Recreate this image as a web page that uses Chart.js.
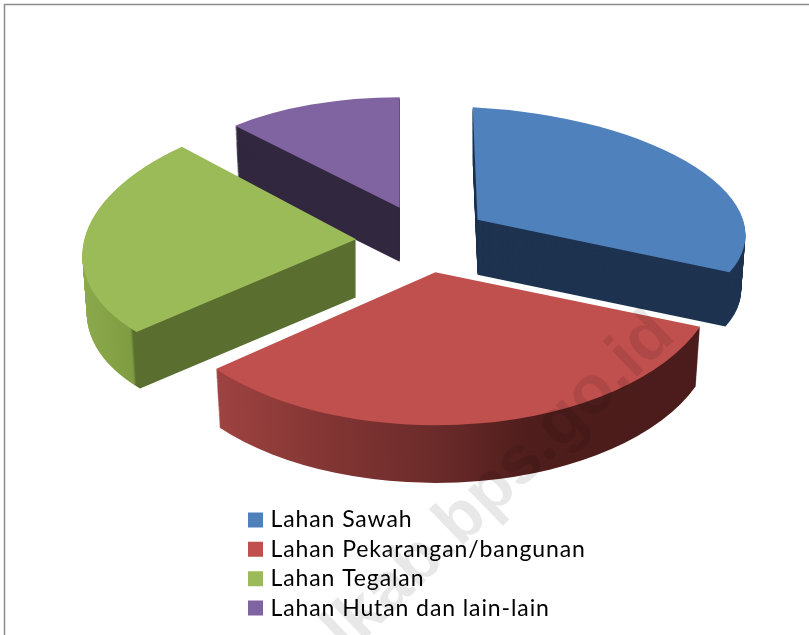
<!DOCTYPE html>
<html>
<head>
<meta charset="utf-8">
<script src="https://cdn.jsdelivr.net/npm/chart.js@4"></script>
<style>
  html, body { margin: 0; padding: 0; background: #fff; overflow: hidden; }
  #wrap { width: 809px; height: 635px; }
  #pie { filter: blur(0.4px); }
</style>
</head>
<body>
<div id="wrap"><canvas id="pie"></canvas></div>
<script>
const categories = ['Lahan Sawah', 'Lahan Pekarangan/bangunan', 'Lahan Tegalan', 'Lahan Hutan dan lain-lain'];
const shares = [30.8, 33.3, 24.2, 11.7];
const colors = ['#4f81bd', '#c0504d', '#9bbb59', '#8064a2'];

// look of the fake 3D, one entry per slice
const wallColors = ['#1e3350', '#4a1c1b', '#5a6e30', '#32283f'];
const rimStops = [
    null,
    [[0.11, '#9e4341'], [0.3, '#833634'], [0.5, '#6b2b2a'], [0.67, '#4e1d1c'], [1, '#4a1c1b']],
    [[0, '#8caa4c'], [0.1, '#7f9c42'], [0.106, '#5a6e30'], [1, '#5a6e30']],
    null
];
const radiusScale = [0.95, 1.005, 0.97, 0.87];
const tilt = [0.42, 0.54, 0.49, 0.45];
const skewY = [0.05, 0, -0.037, 0];
const skewX = [0.018, 0, -0.045, 0];
const nudgeX = [0, 1, -3, -1];
const nudgeY = [2, -1, 4, 3];
const depth = [55, 60, 58, 54];
const drawOrder = [3, 0, 2, 1];
const explode = 65;
const baseTilt = 0.55;
const taper = 0.016;

function sliceFill(ctx, arc, i) {
    if (!rimStops[i]) return wallColors[i];
    const r = arc.outerRadius;
    const g = ctx.createLinearGradient(arc.x - r, 0, arc.x + r, 0);
    rimStops[i].forEach(s => g.addColorStop(s[0], s[1]));
    return g;
}

function placeSlice(ctx, arc, i, drop, shrink) {
    const mid = (arc.startAngle + arc.endAngle) / 2;
    const px = arc.x + Math.cos(mid) * explode + nudgeX[i];
    const py = arc.y + Math.sin(mid) * explode * baseTilt + nudgeY[i] + drop;
    const s = radiusScale[i] * shrink;
    ctx.translate(px, py);
    ctx.transform(s, skewY[i] * s, skewX[i] * s, tilt[i] * s, 0, 0);
    ctx.translate(-arc.x, -arc.y);
}

const pie3d = {
    id: 'pie3d',
    beforeDraw(chart) {
        const ctx = chart.ctx;
        ctx.save();
        ctx.strokeStyle = '#8c8c8c';
        ctx.lineWidth = 1.5;
        ctx.beginPath();
        ctx.moveTo(4.5, 635);
        ctx.lineTo(4.5, 4.5);
        ctx.lineTo(809, 4.5);
        ctx.stroke();
        ctx.restore();
        // legend text in the picture is spaced out
        ctx.letterSpacing = '0.9px';
    },
    afterLayout(chart) {
        chart.legend.left = 245.6;
        chart.legend.right = 809;
        chart.legend.top = 502;
        chart.legend.bottom = 635;
    },
    beforeDatasetDraw(chart, args) {
        const ctx = chart.ctx;
        const arcs = args.meta.data;
        drawOrder.forEach(i => {
            const arc = arcs[i];
            const base = Object.assign({}, arc.options);
            for (let d = depth[i]; d >= 1; d--) {
                ctx.save();
                placeSlice(ctx, arc, i, d, 1 - taper * d / depth[i]);
                arc.options = Object.assign({}, base, { backgroundColor: sliceFill(ctx, arc, i) });
                arc.draw(ctx);
                ctx.restore();
            }
            ctx.save();
            placeSlice(ctx, arc, i, 0, 1);
            arc.options = base;
            arc.draw(ctx);
            ctx.restore();
        });
        return false;
    },
    afterDatasetsDraw(chart) {
        const ctx = chart.ctx;
        ctx.save();
        ctx.letterSpacing = '0px';
        ctx.translate(677, 338);
        ctx.rotate(-44 * Math.PI / 180);
        ctx.font = 'bold 68px "Liberation Sans"';
        ctx.textAlign = 'right';
        ctx.textBaseline = 'alphabetic';
        ctx.fillStyle = 'rgba(0,0,0,0.09)';
        ctx.fillText('alkab.bps.go.id', 0, 0);
        ctx.restore();
    }
};

new Chart(document.getElementById('pie'), {
    type: 'pie',
    data: {
        labels: categories,
        datasets: [{ data: shares, backgroundColor: colors, borderWidth: 0 }]
    },
    options: {
        responsive: true,
        maintainAspectRatio: false,
        animation: false,
        radius: 282,
        layout: { padding: { left: 39, bottom: 159 } },
        plugins: {
            tooltip: { enabled: false },
            legend: {
                position: 'chartArea',
                align: 'start',
                labels: {
                    boxWidth: 7,
                    boxHeight: 7,
                    padding: 6.4,
                    color: '#111',
                    font: { family: 'Lato', size: 23 },
                    // thick border keeps the swatch 15px but the label closer to it
                    generateLabels(chart) {
                        return categories.map((text, i) => ({
                            text, index: i, fillStyle: colors[i], strokeStyle: colors[i], lineWidth: 8, hidden: false
                        }));
                    }
                }
            }
        }
    },
    plugins: [pie3d]
});
</script>
</body>
</html>
